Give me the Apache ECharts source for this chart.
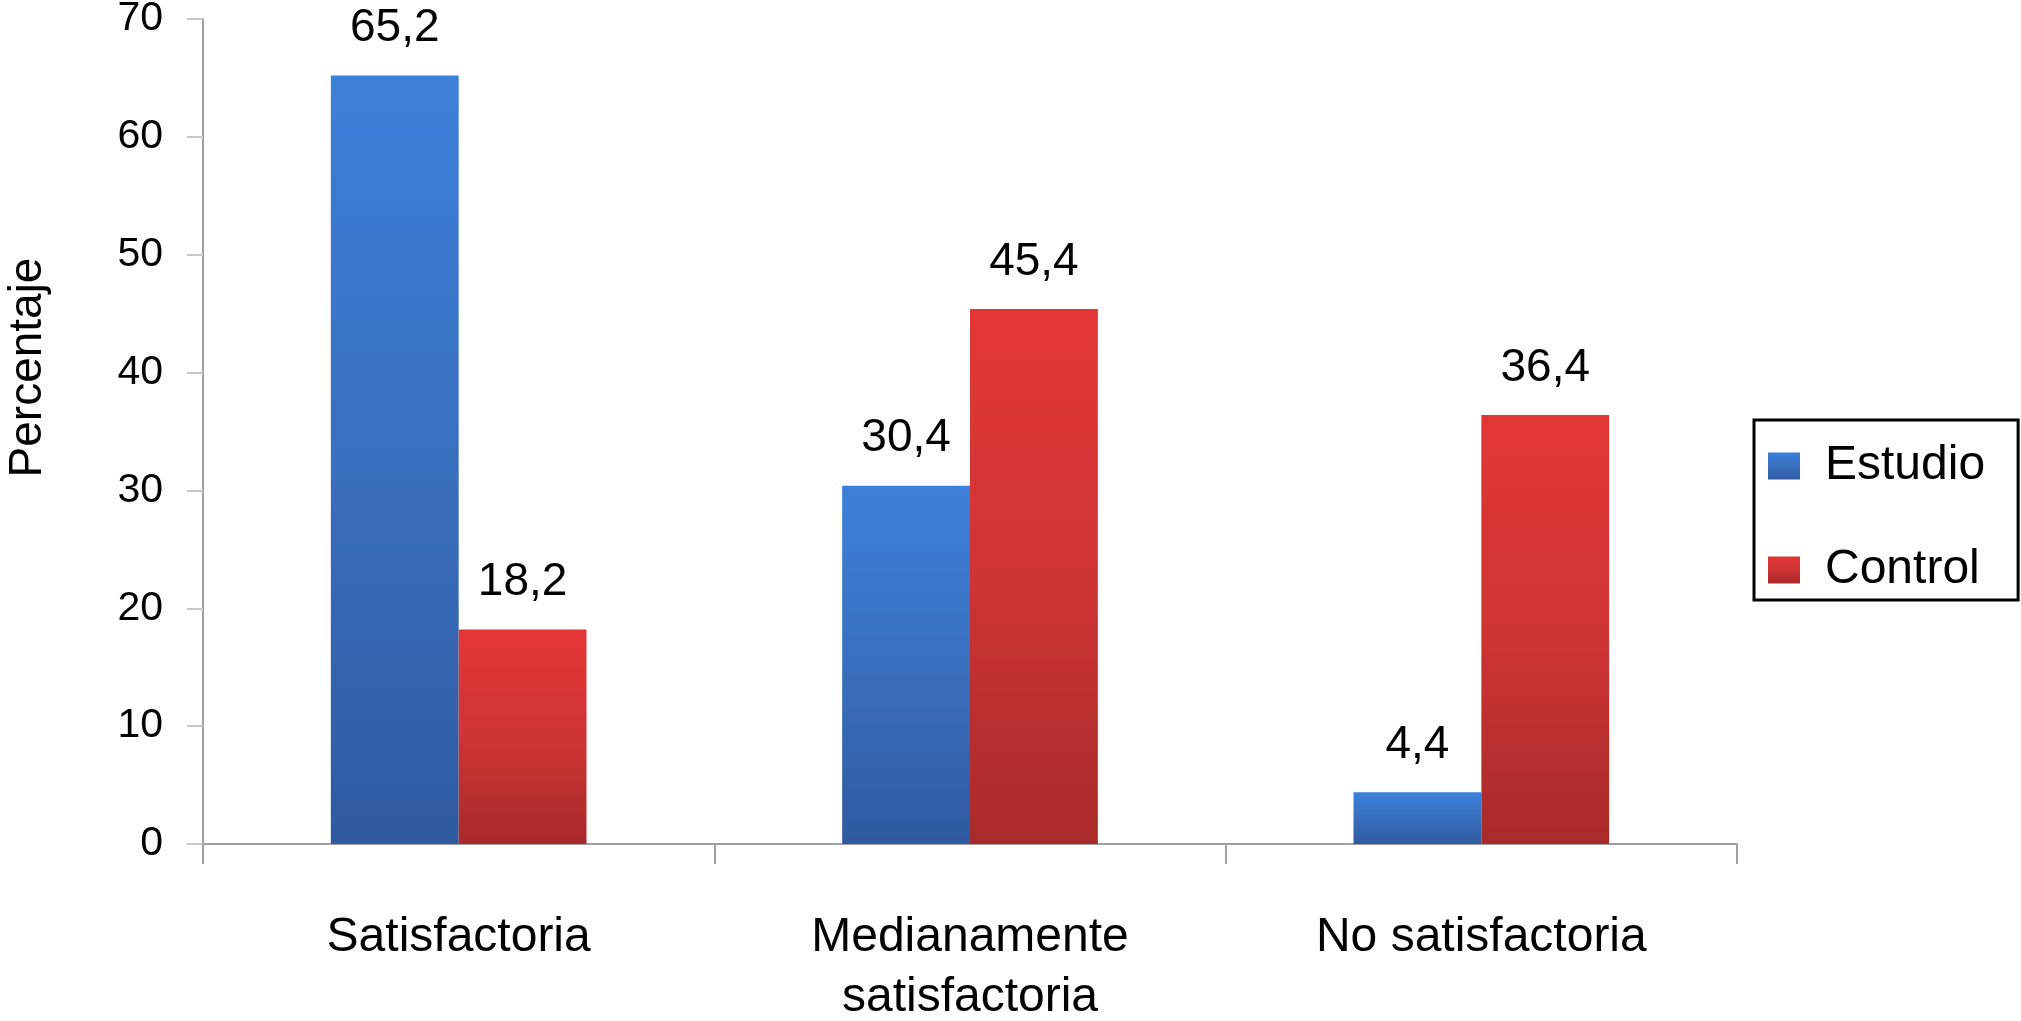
<!DOCTYPE html>
<html>
<head>
<meta charset="utf-8">
<script src="https://cdn.jsdelivr.net/npm/echarts@6/dist/echarts.min.js"></script>
<style>html,body{margin:0;padding:0;background:#fff;}#c{width:2021px;height:1021px;}</style>
</head>
<body>
<div id="c"></div>
<script>
const categories = ['Satisfactoria', 'Medianamente\nsatisfactoria', 'No satisfactoria'];
const seriesNames = ['Estudio', 'Control'];
const estudioValues = [65.2, 30.4, 4.4];
const controlValues = [18.2, 45.4, 36.4];
const yTicks = [0, 10, 20, 30, 40, 50, 60, 70];

const FONT = "'Liberation Sans', Arial, Helvetica, sans-serif";
const chart = echarts.init(document.getElementById('c'));
const blueGrad = new echarts.graphic.LinearGradient(0, 0, 0, 1, [
  {offset: 0, color: '#3b80da'}, {offset: 0.5, color: '#3a6fbf'}, {offset: 1, color: '#2f5a9f'}
]);
const redGrad = new echarts.graphic.LinearGradient(0, 0, 0, 1, [
  {offset: 0, color: '#e23636'}, {offset: 0.5, color: '#cf3434'}, {offset: 1, color: '#a82a2a'}
]);
const fmt = p => String(p.value).replace('.', ',');
const labelStyle = {show: true, position: 'top', distance: 24, formatter: fmt,
  color: '#000', fontSize: 46, fontFamily: FONT};

chart.setOption({
  backgroundColor: '#fff',
  animation: false,
  grid: {left: 203, right: 284, top: 19, bottom: 177, containLabel: false, outerBoundsMode: 'none'},
  legend: {
    orient: 'vertical', left: 1754, top: 420,
    data: seriesNames,
    itemWidth: 32, itemHeight: 27, itemGap: 56,
    padding: [22, 33, 6, 14],
    borderColor: '#000', borderWidth: 3,
    textStyle: {fontSize: 48, fontFamily: FONT, color: '#000', padding: [0, 0, 0, 20]},
    icon: 'rect'
  },
  xAxis: {
    type: 'category', data: categories,
    axisLine: {lineStyle: {color: '#a0a0a0', width: 2}},
    axisTick: {show: true, length: 20, alignWithLabel: false, lineStyle: {color: '#a0a0a0', width: 2}},
    axisLabel: {fontSize: 48, fontFamily: FONT, color: '#000', margin: 64, lineHeight: 60, interval: 0}
  },
  yAxis: {
    type: 'value', min: yTicks[0], max: yTicks[yTicks.length - 1], interval: 10,
    name: 'Percentaje', nameLocation: 'middle', nameRotate: 90, nameGap: 152,
    nameTextStyle: {fontSize: 46, fontFamily: FONT, color: '#000', padding: [0, 0, 0, 128]},
    axisLine: {show: true, lineStyle: {color: '#a0a0a0', width: 2}},
    axisTick: {show: true, length: 16, lineStyle: {color: '#c8c8c8', width: 2}},
    splitLine: {show: false},
    axisLabel: {fontSize: 41, fontFamily: FONT, color: '#000', margin: 40}
  },
  series: [
    {name: seriesNames[0], type: 'bar', data: estudioValues, barGap: '0%', barCategoryGap: '50%',
      itemStyle: {color: blueGrad}, label: labelStyle},
    {name: seriesNames[1], type: 'bar', data: controlValues, barGap: '0%', barCategoryGap: '50%',
      itemStyle: {color: redGrad}, label: labelStyle}
  ]
});
</script>
</body>
</html>
